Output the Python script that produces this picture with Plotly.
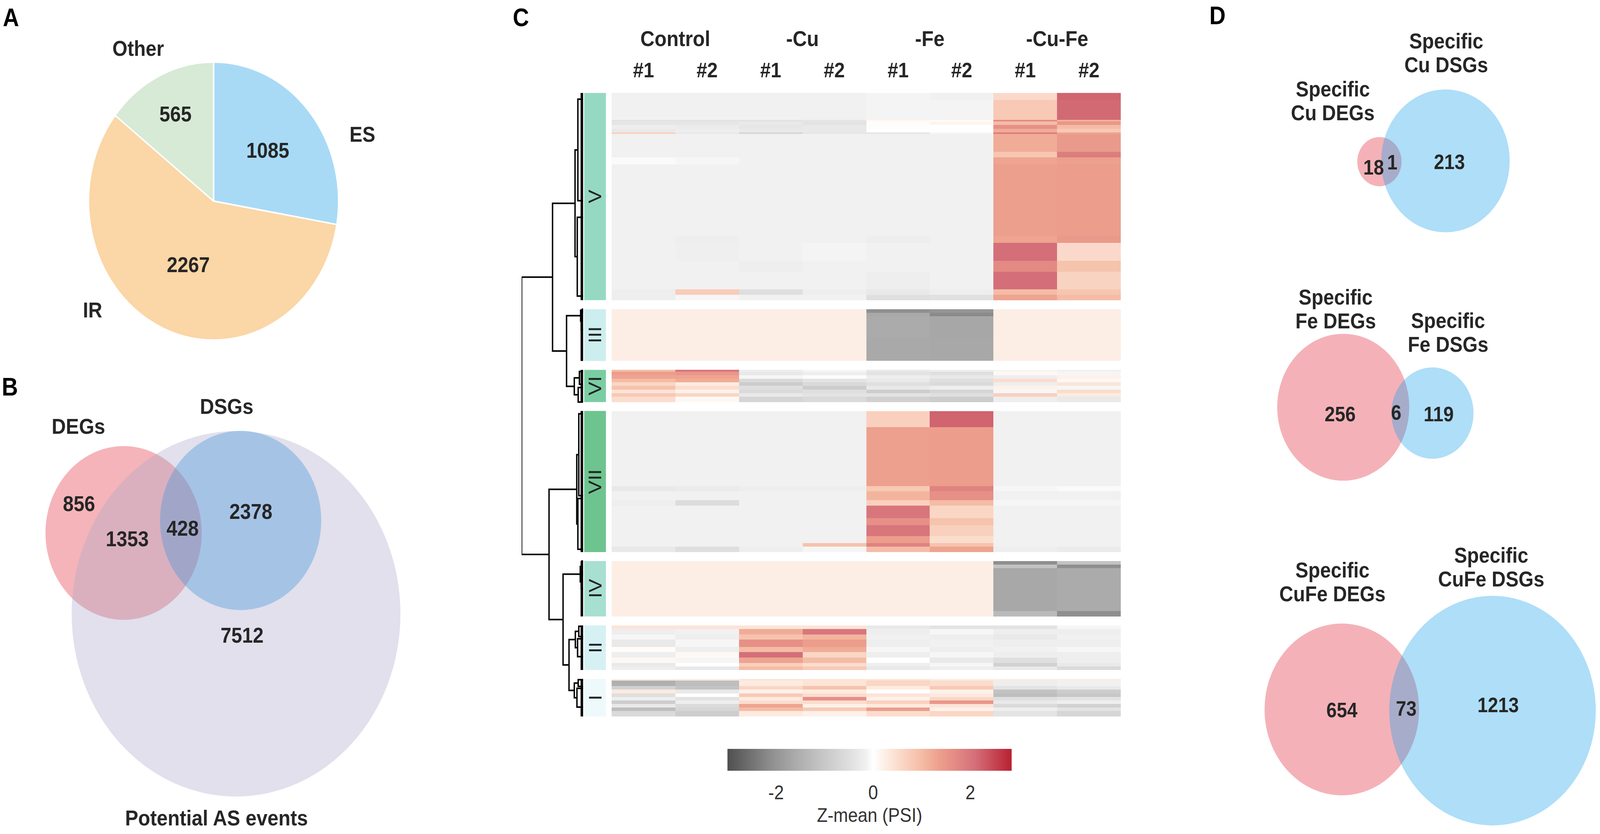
import numpy as np
import plotly.graph_objects as go

W, H = 4555, 2136
FONT = "Liberation Sans, Arial, Helvetica, sans-serif"
TXT = "#262626"

# ---------------- DATA ----------------
# Panel A
pie_labels = ["ES", "IR", "Other"]
pie_values = [1085, 2267, 565]

# Panel B (Venn)
b_set_labels = ["DEGs", "DSGs", "Potential AS events"]
b_deg_only = 856
b_deg_as = 1353
b_all = 428
b_dsg = 2378
b_as_only = 7512

# Panel D (three Venns)
d_cu = [18, 1, 213]
d_fe = [256, 6, 119]
d_cufe = [654, 73, 1213]
d_cu_labels = ["Specific<br>Cu DEGs", "Specific<br>Cu DSGs"]
d_fe_labels = ["Specific<br>Fe DEGs", "Specific<br>Fe DSGs"]
d_cufe_labels = ["Specific<br>CuFe DEGs", "Specific<br>CuFe DSGs"]

# Panel C (heatmap)
groups = ["Control", "-Cu", "-Fe", "-Cu-Fe"]
reps = ["#1", "#2"]
clusters = ["V", "III", "VI", "VII", "IV", "II", "I"]
g = -0.15
p = 0.25
# (number of rows, [Ctrl#1, Ctrl#2, Cu#1, Cu#2, Fe#1, Fe#2, CuFe#1, CuFe#2])
seg_V = [
    (4, [g, g, g, g, -0.12, g, 0.55, 2.2]),
    (11, [g, g, g, g, -0.12, -0.12, 0.8, 2.15]),
    (1, [-0.4, -0.4, -0.4, -0.35, 0.1, 0.05, 1.7, 1.1]),
    (2, [-0.35, -0.35, -0.3, -0.4, 0.05, 0.15, 1.0, 1.5]),
    (2, [-0.2, -0.25, -0.35, -0.3, -0.02, 0.0, 1.6, 1.0]),
    (2, [-0.3, -0.2, -0.3, -0.3, 0.0, 0.02, 1.2, 0.8]),
    (1, [0.7, -0.3, -0.7, -0.35, -0.35, -0.1, 1.9, 1.3]),
    (10, [g, g, g, g, g, g, 1.2, 1.45]),
    (3, [g, g, g, g, g, g, 0.85, 1.9]),
    (4, [-0.05, -0.1, g, g, g, g, 1.3, 1.35]),
    (40, [g, g, g, g, g, g, 1.37, 1.4]),
    (4, [g, -0.2, g, g, -0.2, g, 1.3, 1.45]),
    (10, [g, -0.18, g, -0.12, g, g, 2.1, 0.55]),
    (6, [g, g, -0.2, g, g, g, 1.7, 0.9]),
    (10, [g, g, g, g, -0.2, g, 2.1, 0.65]),
    (3, [-0.2, 0.75, -0.5, -0.2, -0.3, -0.2, 1.0, 0.85]),
    (3, [-0.2, -0.1, -0.15, -0.15, -0.5, -0.45, 1.3, 1.0]),
]
seg_III = [
    (2, [p, p, p, p, -2.1, -2.0, p, p]),
    (2, [p, p, p, p, -1.65, -2.15, p, p]),
    (12, [p, p, p, p, -1.6, -1.68, p, p]),
    (13, [p, p, p, p, -1.64, -1.66, p, p]),
]
seg_VI = [
    (1, [1.0, 2.0, -0.2, -0.1, -0.3, -0.2, -0.1, -0.15]),
    (2, [1.4, 1.5, -0.3, -0.2, -0.4, -0.5, 0.1, -0.1]),
    (2, [1.3, 1.3, -0.1, 0.05, -0.2, -0.3, -0.2, 0.2]),
    (2, [1.0, 1.2, -0.6, -0.4, -0.3, -0.5, 0.5, 0.1]),
    (2, [0.6, 0.3, -0.9, -0.6, -0.5, -0.6, -0.2, 0.4]),
    (2, [0.9, 0.5, -0.5, -0.9, -0.3, -0.2, 0.2, -0.1]),
    (2, [0.4, 0.2, -0.6, -0.5, -0.9, -0.7, -0.1, 0.5]),
    (2, [0.8, 0.6, -0.3, -0.4, -0.4, -0.5, 0.7, 0.3]),
    (3, [0.5, 0.1, -0.7, -0.6, -0.8, -0.9, -0.2, -0.3]),
]
seg_VII = [
    (9, [g, g, g, g, 0.7, 2.2, g, g]),
    (33, [g, g, g, g, 1.35, 1.4, g, g]),
    (3, [-0.3, -0.25, -0.2, -0.2, 0.8, 1.8, -0.1, -0.05]),
    (5, [g, g, g, g, 1.1, 1.6, g, g]),
    (3, [-0.2, -0.55, g, g, 0.7, 1.0, -0.1, -0.1]),
    (7, [g, g, g, g, 2.0, 0.6, g, g]),
    (4, [g, g, g, g, 1.6, 0.9, g, g]),
    (6, [g, g, g, g, 2.0, 0.7, g, g]),
    (4, [g, g, g, g, 1.4, 0.5, g, g]),
    (2, [g, g, g, 0.9, 1.8, 0.9, g, g]),
    (3, [-0.3, -0.5, -0.2, -0.1, 1.0, 1.3, -0.2, -0.25]),
]
seg_IV = [
    (2, [p, p, p, p, p, p, -2.1, -1.1]),
    (2, [p, p, p, p, p, p, -1.1, -2.1]),
    (24, [p, p, p, p, p, p, -1.65, -1.6]),
    (3, [p, p, p, p, p, p, -1.3, -2.1]),
]
seg_II = [
    (2, [0.4, 0.4, 0.4, 0.4, -0.3, -0.4, -0.4, -0.1]),
    (3, [-0.2, -0.15, 1.2, 2.0, -0.2, -0.1, -0.2, -0.2]),
    (3, [-0.1, -0.2, 0.9, 1.1, -0.15, -0.2, -0.3, -0.15]),
    (4, [-0.3, -0.1, 1.6, 1.4, -0.2, -0.15, -0.2, -0.2]),
    (3, [0.05, -0.2, 1.0, 1.2, -0.1, -0.2, -0.15, -0.1]),
    (3, [-0.2, 0.1, 2.1, 0.6, -0.2, -0.1, -0.2, -0.2]),
    (3, [0.1, -0.1, 1.3, 1.0, 0.0, -0.3, -0.5, -0.2]),
    (2, [-0.3, 0.0, 0.7, 0.5, -0.2, -0.1, -0.8, -0.3]),
    (2, [-0.2, -0.3, 1.0, 0.8, -0.3, -0.2, -0.3, -0.6]),
]
seg_I = [
    (1, [0.3, 0.3, 0.4, 0.4, 0.4, 0.3, 0.3, 0.3]),
    (3, [-1.5, -1.2, 0.3, 0.4, 0.6, 0.5, -0.2, -0.15]),
    (2, [-0.8, -1.1, 0.6, 0.9, 0.3, 0.8, -0.4, -0.3]),
    (2, [0.3, -0.3, 0.2, 0.3, 0.0, 0.2, -1.1, -0.9]),
    (2, [-0.5, 0.0, 0.8, 0.5, 0.4, 0.3, -1.2, -1.0]),
    (2, [-0.2, -0.4, 0.3, 1.6, 0.2, 0.6, -0.5, -0.4]),
    (2, [-0.9, -0.2, 0.5, 0.5, 0.7, 1.5, -0.3, -0.2]),
    (2, [-0.3, -0.6, 1.3, 0.2, 0.3, 0.4, -0.6, -0.8]),
    (2, [-1.2, -0.7, 1.0, 0.8, 1.4, 0.2, -0.2, -0.4]),
    (3, [-0.6, -0.9, 0.3, 0.2, 0.5, 0.6, -0.4, -0.7]),
]
segments = {"V": seg_V, "III": seg_III, "VI": seg_VI, "VII": seg_VII,
            "IV": seg_IV, "II": seg_II, "I": seg_I}

# dendrogram: (height, left, right); leaves are clusters
dendro_tree = (10.0, (4.97, "V", (2.69, "III", "VI")),
               (5.54, "VII", (3.26, "IV", (2.29, "II", "I"))))
# within-cluster: node height, two sub-branches (frac_top, frac_bottom, height)
cluster_node_h = {"V": 1.31, "III": 0.40, "VI": 1.43, "VII": 1.03, "IV": 0.46, "II": 1.26, "I": 1.43}
cluster_sub = {
    "V": [(0.03, 0.52, 0.85), (0.60, 0.98, 0.95)],
    "III": [(0.0, 0.05, 0.10), (0.06, 0.40, 0.30)],
    "VI": [(0.05, 0.45, 0.60), (0.55, 1.0, 0.80)],
    "VII": [(0.02, 0.60, 0.70), (0.62, 0.98, 0.85)],
    "IV": [(0.0, 0.20, 0.20), (0.25, 0.50, 0.30)],
    "II": [(0.02, 0.25, 0.70), (0.30, 0.70, 0.90)],
    "I": [(0.02, 0.20, 0.80), (0.25, 0.75, 1.00)],
}

# ---------------- STYLE / LAYOUT CONSTANTS ----------------
cluster_colors = {"V": "#96D9C2", "III": "#CDEEEE", "VI": "#7ACDA3", "VII": "#6EC48F",
                  "IV": "#A7DFD1", "II": "#D6F1F4", "I": "#EEF9FB"}
pie_colors = ["#A8DAF6", "#FBD6A6", "#D6EAD6"]
cs_pairs = [(-3.0, "#4F4F4F"), (-2.1, "#8F8F8F"), (-1.6, "#ABABAB"), (-1.0, "#C8C8C8"),
            (-0.4, "#E3E3E3"), (-0.15, "#F1F1F1"), (0.0, "#FFFFFF"), (0.25, "#FDEEE5"),
            (0.6, "#FAD6C5"), (1.0, "#F5BCA5"), (1.35, "#EDA08D"), (1.7, "#E38A84"),
            (2.1, "#D46F79"), (2.85, "#B8202F")]
ZMIN, ZMAX = -3.0, 2.85
colorscale = [[(v - ZMIN) / (ZMAX - ZMIN), c] for v, c in cs_pairs]

HM_LEFT, HM_RIGHT, HM_TOP, HM_BOT = 1741, 3191, 238, 1835
DEN_LEFT, DEN_RIGHT = 1485, 1660
BAR_LEFT, BAR_RIGHT = 1663, 1725
GAP_ROWS = 5

def fx(x):
    return x / W

def fy(y):
    return 1 - y / H

# ---------------- BUILD HEATMAP MATRIX ----------------
z_rows = []
span = {}
for i, c in enumerate(clusters):
    if i > 0:
        z_rows += [[None] * 8] * GAP_ROWS
    s = len(z_rows)
    for n, vals in segments[c]:
        z_rows += [vals] * n
    span[c] = (s, len(z_rows))
z = np.array(z_rows, dtype=float)
nrows = z.shape[0]

fig = go.Figure()

# dummy on pixel axis
fig.add_trace(go.Scatter(x=[0], y=[0], mode="markers", marker=dict(opacity=0),
                         hoverinfo="skip", showlegend=False, xaxis="x", yaxis="y"))

# ---------------- PANEL A: PIE ----------------
PIE_CX, PIE_CY, PIE_R = 608, 515, 356
fig.add_trace(go.Pie(
    labels=pie_labels, values=pie_values, sort=False, direction="clockwise", rotation=0,
    marker=dict(colors=pie_colors, line=dict(color="white", width=4)),
    texttemplate="<b>%{value}</b>", textposition="inside", insidetextorientation="horizontal",
    textfont=dict(size=55, color=TXT, family=FONT),
    domain=dict(x=[fx(PIE_CX - PIE_R), fx(PIE_CX + PIE_R)], y=[fy(PIE_CY + PIE_R), fy(PIE_CY - PIE_R)]),
    showlegend=False, hoverinfo="skip"))

# ---------------- PANEL C: HEATMAP ----------------
fig.add_trace(go.Heatmap(
    z=z, x=list(range(8)), y=list(range(nrows)), colorscale=colorscale, zmin=ZMIN, zmax=ZMAX,
    xaxis="x2", yaxis="y2", hoverinfo="skip", hoverongaps=False,
    colorbar=dict(orientation="h", x=fx((2071 + 2880) / 2), xanchor="center",
                  y=fy(1918), yanchor="top", len=(2880 - 2071) / W, lenmode="fraction",
                  thickness=56, thicknessmode="pixels", outlinewidth=0, xpad=0, ypad=0,
                  tickvals=[-2, 0, 2], ticktext=["-2", "0", "2"], ticks="outside",
                  ticklen=14, tickcolor="rgba(0,0,0,0)",
                  tickfont=dict(size=50, color="#333333", family=FONT),
                  title=dict(text="Z-mean (PSI)", side="bottom",
                             font=dict(size=50, color="#333333", family=FONT)))))

# ---------------- DENDROGRAM ----------------
def row_at(c, f):
    s, e = span[c]
    return s - 0.5 + f * (e - s)

dx, dy = [], []
mass_x, mass_y = [], []

def seg(pts):
    for a, b in pts:
        dx.append(a)
        dy.append(b)
    dx.append(None)
    dy.append(None)

def leaf(c):
    (a0, a1, ha), (b0, b1, hb) = cluster_sub[c]
    ya, yb = row_at(c, (a0 + a1) / 2), row_at(c, (b0 + b1) / 2)
    h = cluster_node_h[c]
    seg([(ha, ya), (h, ya), (h, yb), (hb, yb)])
    for f0, f1, hh in cluster_sub[c]:
        seg([(0, row_at(c, f0)), (hh, row_at(c, f0)), (hh, row_at(c, f1)), (0, row_at(c, f1))])
    mass_x.extend([0.15, 0.15, None])
    mass_y.extend([row_at(c, 0.0), row_at(c, 1.0), None])
    return (ya + yb) / 2, h

def node(n):
    if isinstance(n, str):
        return leaf(n)
    h, l, r = n
    yl, hl = node(l)
    yr, hr = node(r)
    seg([(hl, yl), (h, yl), (h, yr), (hr, yr)])
    return (yl + yr) / 2, h

node(dendro_tree)
fig.add_trace(go.Scatter(x=dx, y=dy, mode="lines", line=dict(color="black", width=4),
                         xaxis="x3", yaxis="y2", hoverinfo="skip", showlegend=False))
fig.add_trace(go.Scatter(x=mass_x, y=mass_y, mode="lines", line=dict(color="black", width=9),
                         xaxis="x3", yaxis="y2", hoverinfo="skip", showlegend=False))

shapes = []
annotations = []

def ann(text, x, y, size=55, bold=True, xref="x", yref="y", angle=0, color=TXT):
    annotations.append(dict(text=("<b>%s</b>" % text) if bold else text, x=x, y=y, xref=xref,
                            yref=yref, showarrow=False, textangle=angle, xanchor="center",
                            yanchor="middle", font=dict(size=size, color=color, family=FONT)))

# cluster colour bar + labels
for c in clusters:
    s, e = span[c]
    shapes.append(dict(type="rect", xref="x", yref="y2", x0=BAR_LEFT, x1=BAR_RIGHT,
                       y0=s - 0.5, y1=e - 0.5, fillcolor=cluster_colors[c], line_width=0))
    ann(c, (BAR_LEFT + BAR_RIGHT) / 2, (s + e - 1) / 2, size=52, bold=False, yref="y2",
        angle=-90, color="#222222")

# column headers
for i, gname in enumerate(groups):
    ann(gname, 2 * i + 0.5, 98, size=56, xref="x2")
    for j, r in enumerate(reps):
        ann(r, 2 * i + j, 179, size=54, xref="x2")

# ---------------- PANEL A labels ----------------
ann("Other", 393, 124)
ann("ES", 1031, 344)
ann("IR", 263, 794)

# ---------------- PANEL B: VENN ----------------
def circle(cx, cy, r, fill):
    shapes.append(dict(type="circle", xref="x", yref="y", x0=cx - r, x1=cx + r,
                       y0=cy - r, y1=cy + r, fillcolor=fill, line_width=0))

k_b = 4.332
r_as = k_b * np.sqrt(b_as_only + b_deg_as + b_all + b_dsg)
r_deg = k_b * np.sqrt(b_deg_only + b_deg_as + b_all)
r_dsg = k_b * np.sqrt(b_all + b_dsg)
circle(352, 1365, r_deg, "rgb(245,180,185)")
circle(685, 1333, r_dsg, "rgba(0,138,227,0.37)")
circle(672, 1572, r_as, "rgba(173,168,203,0.36)")
ann(b_set_labels[0], 223, 1091, size=56)
ann(b_set_labels[1], 645, 1040, size=56)
ann(b_set_labels[2], 616, 2094, size=56)
ann(str(b_deg_only), 225, 1290)
ann(str(b_deg_as), 362, 1380)
ann(str(b_all), 520, 1353)
ann(str(b_dsg), 714, 1310)
ann(str(b_as_only), 689, 1627)

# ---------------- PANEL D: VENNS ----------------
RED_D = "rgb(244,178,184)"
BLUE_D = "rgba(23,160,234,0.35)"
venn_d = [
    # red circle (cx, cy, r), blue circle, number positions, label positions
    (d_cu, d_cu_labels, (3927, 414, 63), (4115, 412, 183),
     [(3910, 428), (3963, 415), (4126, 414)], [(3794, 228), (4117, 105)]),
    (d_fe, d_fe_labels, (3824, 1043, 188), (4078, 1058, 117),
     [(3815, 1060), (3974, 1056), (4096, 1060)], [(3802, 761), (4122, 821)]),
    (d_cufe, d_cufe_labels, (3820, 1817, 220), (4249, 1820, 294),
     [(3820, 1818), (4003, 1814), (4265, 1805)], [(3793, 1460), (4245, 1422)]),
]
for vals, labs, rc, bc, npos, lpos in venn_d:
    circle(*rc, RED_D)
    circle(*bc, BLUE_D)
    for v, (x, y) in zip(vals, npos):
        ann(str(v), x, y, size=53)
    for lab, (x, y) in zip(labs, lpos):
        l1, l2 = lab.split("<br>")
        ann(l1, x, y, size=55)
        ann(l2, x, y + 61, size=55)

# panel letters
for letter, (x, y) in zip("ABCD", [(31, 45), (28, 991), (1483, 45), (3466, 40)]):
    ann(letter, x, y, size=64, color="black")

hidden = dict(visible=False, showgrid=False, zeroline=False, fixedrange=True)
fig.update_layout(
    width=W, height=H, margin=dict(l=0, r=0, t=0, b=0), paper_bgcolor="white",
    plot_bgcolor="rgba(0,0,0,0)", font=dict(family=FONT, color=TXT),
    xaxis=dict(domain=[0, 1], range=[0, W], anchor="y", **hidden),
    yaxis=dict(domain=[0, 1], range=[H, 0], anchor="x", **hidden),
    xaxis2=dict(domain=[fx(HM_LEFT), fx(HM_RIGHT)], range=[-0.5, 7.5], anchor="y2", **hidden),
    yaxis2=dict(domain=[fy(HM_BOT), fy(HM_TOP)], range=[nrows - 0.5, -0.5], anchor="x2", **hidden),
    xaxis3=dict(domain=[fx(DEN_LEFT), fx(DEN_RIGHT)], range=[10, 0], anchor="y2", **hidden),
    shapes=shapes, annotations=annotations, showlegend=False,
)

# fit the fixed-size figure to the browser viewport
post = (
    "document.documentElement.style.overflow='hidden';"
    "document.body.style.margin='0';"
    "document.body.style.overflow='hidden';"
    "var _d=document.getElementsByClassName('plotly-graph-div')[0];"
    "var _sx=window.innerWidth/%d, _sy=window.innerHeight/%d;"
    "if(_sx>0 && _sy>0){"
    "_d.style.position='fixed';_d.style.left='0px';_d.style.top='0px';"
    "_d.style.transformOrigin='0 0';"
    "_d.style.transform='scale('+_sx+','+_sy+')';}" % (W, H)
)
fig.write_html("out.html", post_script=post, config={"displayModeBar": False})
